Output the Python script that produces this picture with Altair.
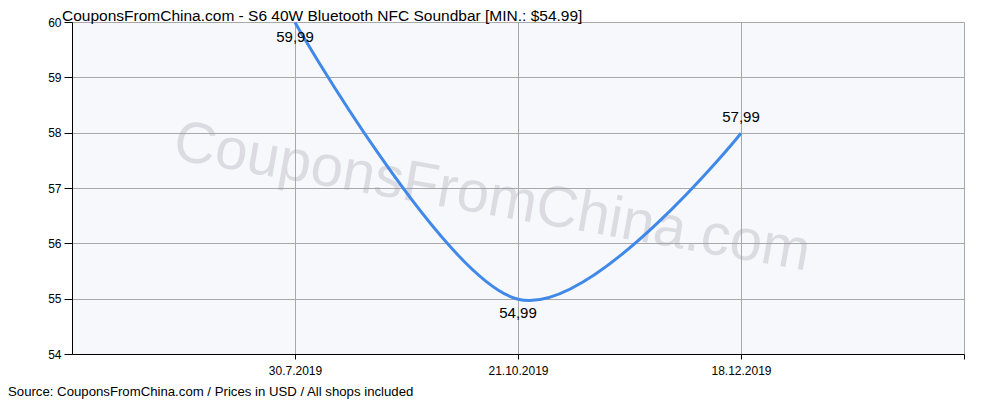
import altair as alt
import pandas as pd

dates = ["30.7.2019", "21.10.2019", "18.12.2019"]
prices = [59.99, 54.99, 57.99]
positions = [1, 2, 3]
y_ticks = [54, 55, 56, 57, 58, 59, 60]
x_ticks = [1, 2, 3, 4]
title_text = "CouponsFromChina.com - S6 40W Bluetooth NFC Soundbar [MIN.: $54.99]"
footer_text = "Source: CouponsFromChina.com / Prices in USD / All shops included"
watermark = "CouponsFromChina.com"

df = pd.DataFrame({
    "pos": positions,
    "date": dates,
    "price": prices,
    "label": [f"{p:.2f}".replace(".", ",") for p in prices],
})

W, H = 892, 332
FONT = "Liberation Sans"

label_expr = "{" + ",".join(f"'{p}':'{d}'" for p, d in zip(positions, dates)) + "}[datum.value] || ''"

x = alt.X("pos:Q",
          scale=alt.Scale(domain=[0, 4], nice=False, zero=False),
          axis=alt.Axis(values=x_ticks, title=None, grid=True, gridColor="#a8a8a8",
                        domainColor="#000000", tickColor="#000000", tickSize=5,
                        labelExpr=label_expr, labelFont=FONT, labelFontSize=12,
                        labelColor="#000000", labelPadding=6))
y = alt.Y("price:Q",
          scale=alt.Scale(domain=[54, 60], nice=False, zero=False),
          axis=alt.Axis(values=y_ticks, title=None, grid=True, gridColor="#a8a8a8",
                        domainColor="#000000", tickColor="#000000", tickSize=8,
                        labelFont=FONT, labelFontSize=12, labelColor="#000000",
                        labelPadding=3, format="d"))

base = alt.Chart(df)

wm = alt.Chart(pd.DataFrame({"t": [watermark]})).mark_text(
    angle=10, fontSize=58, font=FONT, color="#9c9ca4", opacity=0.3,
    align="center", baseline="middle"
).encode(x=alt.value(420), y=alt.value(176), text="t:N")

line = base.mark_line(interpolate="cardinal", color="#4189e8", strokeWidth=3).encode(x=x, y=y)

lab_above = base.transform_filter("datum.price > 55.5 && datum.price < 59.5").mark_text(
    font=FONT, fontSize=15, color="#000000", dy=-16, baseline="middle"
).encode(x="pos:Q", y="price:Q", text="label:N")

lab_below = base.transform_filter("datum.price <= 55.5 || datum.price >= 59.5").mark_text(
    font=FONT, fontSize=15, color="#000000", dy=14, baseline="middle"
).encode(x="pos:Q", y="price:Q", text="label:N")

title = alt.Chart(pd.DataFrame({"t": [title_text]})).mark_text(
    font=FONT, fontSize=15.5, color="#000000", align="left", baseline="alphabetic"
).encode(x=alt.value(-10), y=alt.value(-1), text="t:N")

footer = alt.Chart(pd.DataFrame({"t": [footer_text]})).mark_text(
    font=FONT, fontSize=13.2, color="#000000", align="left", baseline="alphabetic"
).encode(x=alt.value(-64), y=alt.value(374), text="t:N")

chart = alt.layer(wm, line, lab_above, lab_below, title, footer).properties(
    width=W, height=H,
    autosize=alt.AutoSizeParams(type="none"),
    padding={"left": 64, "top": 14, "right": 20, "bottom": 46},
    background="#ffffff",
).configure_view(fill="#f7f8fc", strokeWidth=0)

chart.save("out.html", embed_options={"renderer": "svg", "actions": False})
